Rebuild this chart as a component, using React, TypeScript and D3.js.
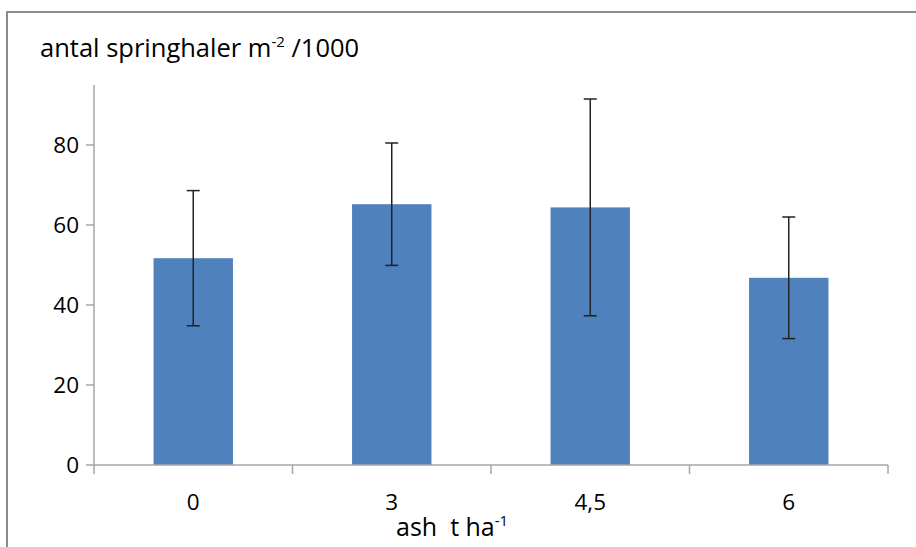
import React from "react";
import * as d3 from "d3";

// Collembola counts per ash dose
const categories: string[] = ["0", "3", "4,5", "6"];
const means: number[] = [51.7, 65.2, 64.4, 46.8];
const errors: number[] = [16.9, 15.3, 27.1, 15.2];
const yTicks: number[] = [0, 20, 40, 60, 80];

const W = 916;
const H = 547;
const margin = { left: 94, right: 28, top: 85, bottom: 82 };
const FONT = "'Open Sans', 'Noto Sans', sans-serif";
const AXIS = "#a6a6a6";
const BAR = "#4f81bd";
const FS = 22.5;

export default function App() {
  const x = d3
    .scaleBand<string>()
    .domain(categories)
    .range([margin.left, W - margin.right])
    .paddingInner(0.6)
    .paddingOuter(0.3);
  const y = d3.scaleLinear().domain([0, 95]).range([H - margin.bottom, margin.top]);
  const y0 = y(0);
  const edges = d3.range(categories.length + 1).map((i) => margin.left + i * ((W - margin.right - margin.left) / categories.length));

  return (
    <svg width={W} height={H} style={{ position: "absolute", left: 0, top: 0, background: "#fff" }}>
      {/* outer chart frame */}
      <rect x={7} y={12} width={W + 10} height={H + 10} fill="#fff" stroke="#8c8c8c" strokeWidth={2} />

      {/* title */}
      <text x={40} y={57} fontFamily={FONT} fontSize={25.5} fill="#000">
        antal springhaler m<tspan dy={-10} fontSize={15}>-2</tspan>
        <tspan dy={10}> /1000</tspan>
      </text>

      {/* y axis */}
      <line x1={margin.left} x2={margin.left} y1={y(95)} y2={y0} stroke={AXIS} strokeWidth={1.5} />
      {yTicks.map((t) => (
        <g key={t}>
          <line x1={margin.left - 8} x2={margin.left} y1={y(t)} y2={y(t)} stroke={AXIS} strokeWidth={1.5} />
          <text x={79} y={y(t)} dy="0.36em" textAnchor="end" fontFamily={FONT} fontSize={FS} fill="#000">
            {t}
          </text>
        </g>
      ))}

      {/* bars */}
      {categories.map((c, i) => (
        <rect key={c} x={x(c)} y={y(means[i])} width={x.bandwidth()} height={y0 - y(means[i])} fill={BAR} />
      ))}

      {/* x axis */}
      <line x1={margin.left} x2={W - margin.right} y1={y0} y2={y0} stroke={AXIS} strokeWidth={1.5} />
      {edges.map((e, i) => (
        <line key={i} x1={e} x2={e} y1={y0} y2={y0 + 9} stroke={AXIS} strokeWidth={1.5} />
      ))}
      {categories.map((c) => (
        <text key={c} x={(x(c) ?? 0) + x.bandwidth() / 2} y={510} textAnchor="middle" fontFamily={FONT} fontSize={FS} fill="#000">
          {c}
        </text>
      ))}

      {/* error bars */}
      {categories.map((c, i) => {
        const cx = (x(c) ?? 0) + x.bandwidth() / 2;
        const hi = y(means[i] + errors[i]);
        const lo = y(means[i] - errors[i]);
        return (
          <g key={c} stroke="#222" strokeWidth={1.5}>
            <line x1={cx} x2={cx} y1={hi} y2={lo} />
            <line x1={cx - 6.5} x2={cx + 6.5} y1={hi} y2={hi} />
            <line x1={cx - 6.5} x2={cx + 6.5} y1={lo} y2={lo} />
          </g>
        );
      })}

      {/* x axis title */}
      <text x={396} y={536} fontFamily={FONT} fontSize={25} fill="#000" style={{ whiteSpace: "pre" }}>
        ash  t ha<tspan dy={-10} fontSize={15}>-1</tspan>
      </text>
    </svg>
  );
}
